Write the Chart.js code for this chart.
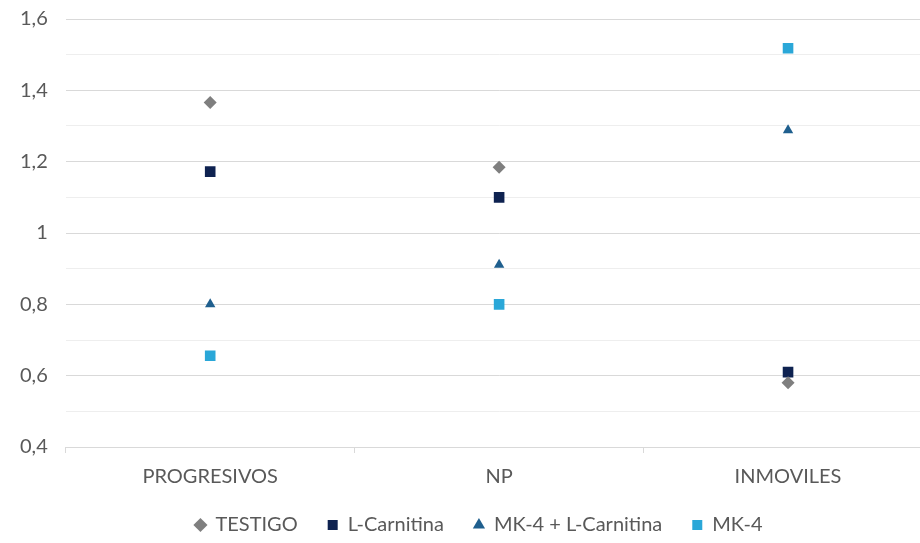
<!DOCTYPE html>
<html>
<head>
<meta charset="utf-8">
<script src="https://cdn.jsdelivr.net/npm/chart.js@4/dist/chart.umd.min.js"></script>
<style>
  html, body { margin: 0; padding: 0; background: #fff; overflow: hidden; }
  #wrap { width: 940px; height: 554px; margin-top: -11px; }
</style>
</head>
<body>
<div id="wrap"><canvas id="chart"></canvas></div>
<script>
// --- DATA ---
const categories = ['PROGRESIVOS', 'NP', 'INMOVILES'];
const testigo = [1.366, 1.184, 0.58];
const lCarnitina = [1.172, 1.10, 0.61];
const mk4LCarnitina = [0.80, 0.911, 1.288];
const mk4 = [0.656, 0.80, 1.518];

// --- COLORS ---
const COLORS = {
    testigo: '#7f7f7f',
    lCarnitina: '#0e2250',
    mk4L: '#1f5f8e',
    mk4: '#2aa7d8',
    text: '#595959',
    grid: '#d9d9d9',
    minor: '#eeeeee'
};

const FONT = 'Lato, "Open Sans", sans-serif';

function series(label, data, color, style, radius) {
    return {
        label: label,
        data: data,
        showLine: false,
        pointStyle: style,
        pointRadius: radius,
        pointHoverRadius: radius,
        backgroundColor: color,
        borderColor: color,
        borderWidth: 0
    };
}

// nudge the legend to the right, like the original
const legendShift = {
    id: 'legendShift',
    afterLayout(chart) {
        chart.legend.left += 8;
        chart.legend.right += 8;
    }
};

new Chart(document.getElementById('chart'), {
    type: 'line',
    data: {
        labels: categories,
        datasets: [
            series('TESTIGO', testigo, COLORS.testigo, 'rectRot', 6.5),
            series('L-Carnitina', lCarnitina, COLORS.lCarnitina, 'rect', 7.5),
            series('MK-4 + L-Carnitina', mk4LCarnitina, COLORS.mk4L, 'triangle', 6),
            series('MK-4', mk4, COLORS.mk4, 'rect', 7.5)
        ]
    },
    options: {
        responsive: true,
        maintainAspectRatio: false,
        animation: false,
        layout: { padding: { top: 0, left: 2, right: 0, bottom: -2 } },
        scales: {
            x: {
                offset: true,
                afterFit: scale => { scale.height -= 16; },
                grid: {
                    offset: true,
                    display: true,
                    drawOnChartArea: false,
                    tickLength: 6,
                    color: COLORS.grid
                },
                border: { display: true, color: COLORS.grid },
                ticks: { color: COLORS.text, font: { family: FONT, size: 20 }, padding: 12 }
            },
            y: {
                min: 0.4,
                max: 1.6,
                ticks: {
                    stepSize: 0.1,
                    color: COLORS.text,
                    font: { family: FONT, size: 20 },
                    padding: 18,
                    callback: function (v) {
                        const r = Math.round(v * 10);
                        if (r % 2 !== 0) return '';
                        return (r / 10).toString().replace('.', ',');
                    }
                },
                grid: {
                    drawTicks: false,
                    color: ctx => (Math.round(ctx.tick.value * 10) % 2 === 0 ? COLORS.grid : COLORS.minor)
                },
                border: { display: false }
            }
        },
        plugins: {
            legend: {
                position: 'bottom',
                labels: {
                    usePointStyle: true,
                    boxWidth: 10,
                    boxHeight: 10,
                    padding: 30,
                    color: COLORS.text,
                    font: { family: FONT, size: 20 }
                }
            },
            tooltip: { enabled: false }
        }
    },
    plugins: [legendShift]
});
</script>
</body>
</html>
